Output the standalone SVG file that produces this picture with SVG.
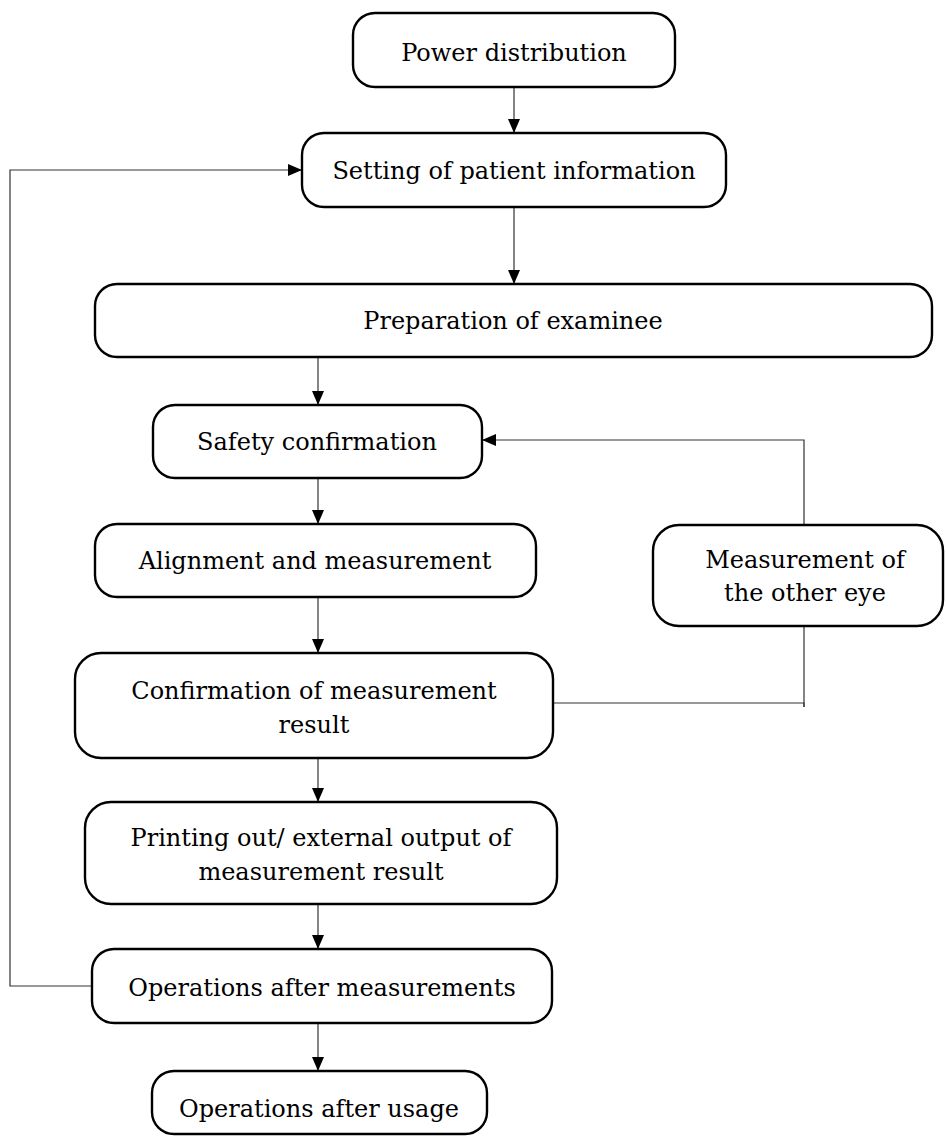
<svg xmlns="http://www.w3.org/2000/svg" width="946" height="1138" viewBox="0 0 946 1138">
<style>
.box{fill:#fff;stroke:#000;stroke-width:2.4}
.t{font-family:"DejaVu Serif","Liberation Serif",serif;font-size:24px;fill:#000;text-anchor:middle}
.c{fill:none;stroke:#333;stroke-width:1.2}
</style>
<defs>
<marker id="ah" viewBox="0 0 14 12" refX="14" refY="6" markerWidth="14" markerHeight="12" markerUnits="userSpaceOnUse" orient="auto">
<path d="M0,0 L14,6 L0,12 Z" fill="#000"/>
</marker>
</defs>
<rect width="946" height="1138" fill="#fff"/>
<g id="connectors">
<line class="c" x1="514" y1="87" x2="514" y2="133" marker-end="url(#ah)"/>
<line class="c" x1="514" y1="207" x2="514" y2="284" marker-end="url(#ah)"/>
<line class="c" x1="318" y1="357" x2="318" y2="405" marker-end="url(#ah)"/>
<line class="c" x1="318" y1="478" x2="318" y2="524" marker-end="url(#ah)"/>
<line class="c" x1="318" y1="597" x2="318" y2="653" marker-end="url(#ah)"/>
<line class="c" x1="318" y1="758" x2="318" y2="802" marker-end="url(#ah)"/>
<line class="c" x1="318" y1="904" x2="318" y2="949" marker-end="url(#ah)"/>
<line class="c" x1="318" y1="1023" x2="318" y2="1071" marker-end="url(#ah)"/>
<polyline class="c" points="92,986 10,986 10,170 302,170" marker-end="url(#ah)"/>
<polyline class="c" points="553,703 804,703 804,707"/>
<line class="c" x1="804" y1="626" x2="804" y2="707"/>
<polyline class="c" points="804,525 804,440 482,440" marker-end="url(#ah)"/>
</g>
<g id="n1"><rect class="box" x="353" y="13" width="322" height="74" rx="22"/><text class="t" x="514" y="61">Power distribution</text></g>
<g id="n2"><rect class="box" x="302" y="133" width="424" height="74" rx="22"/><text class="t" x="514" y="179">Setting of patient information</text></g>
<g id="n3"><rect class="box" x="95" y="284" width="837" height="73" rx="22"/><text class="t" x="513" y="329">Preparation of examinee</text></g>
<g id="n4"><rect class="box" x="153" y="405" width="329" height="73" rx="22"/><text class="t" x="317" y="450">Safety confirmation</text></g>
<g id="n5"><rect class="box" x="95" y="524" width="441" height="73" rx="22"/><text class="t" x="315" y="569">Alignment and measurement</text></g>
<g id="n6"><rect class="box" x="75" y="653" width="478" height="105" rx="26"/><text class="t" x="314" y="699">Confirmation of measurement</text><text class="t" x="314" y="733">result</text></g>
<g id="n7"><rect class="box" x="85" y="802" width="472" height="102" rx="26"/><text class="t" x="321" y="846">Printing out/ external output of</text><text class="t" x="321" y="880">measurement result</text></g>
<g id="n8"><rect class="box" x="92" y="949" width="460" height="74" rx="22"/><text class="t" x="322" y="996">Operations after measurements</text></g>
<g id="n9"><rect class="box" x="152" y="1071" width="335" height="63" rx="22"/><text class="t" x="319" y="1117">Operations after usage</text></g>
<g id="n10"><rect class="box" x="653" y="525" width="290" height="101" rx="26"/><text class="t" x="805" y="568">Measurement of</text><text class="t" x="805" y="601">the other eye</text></g>
</svg>
